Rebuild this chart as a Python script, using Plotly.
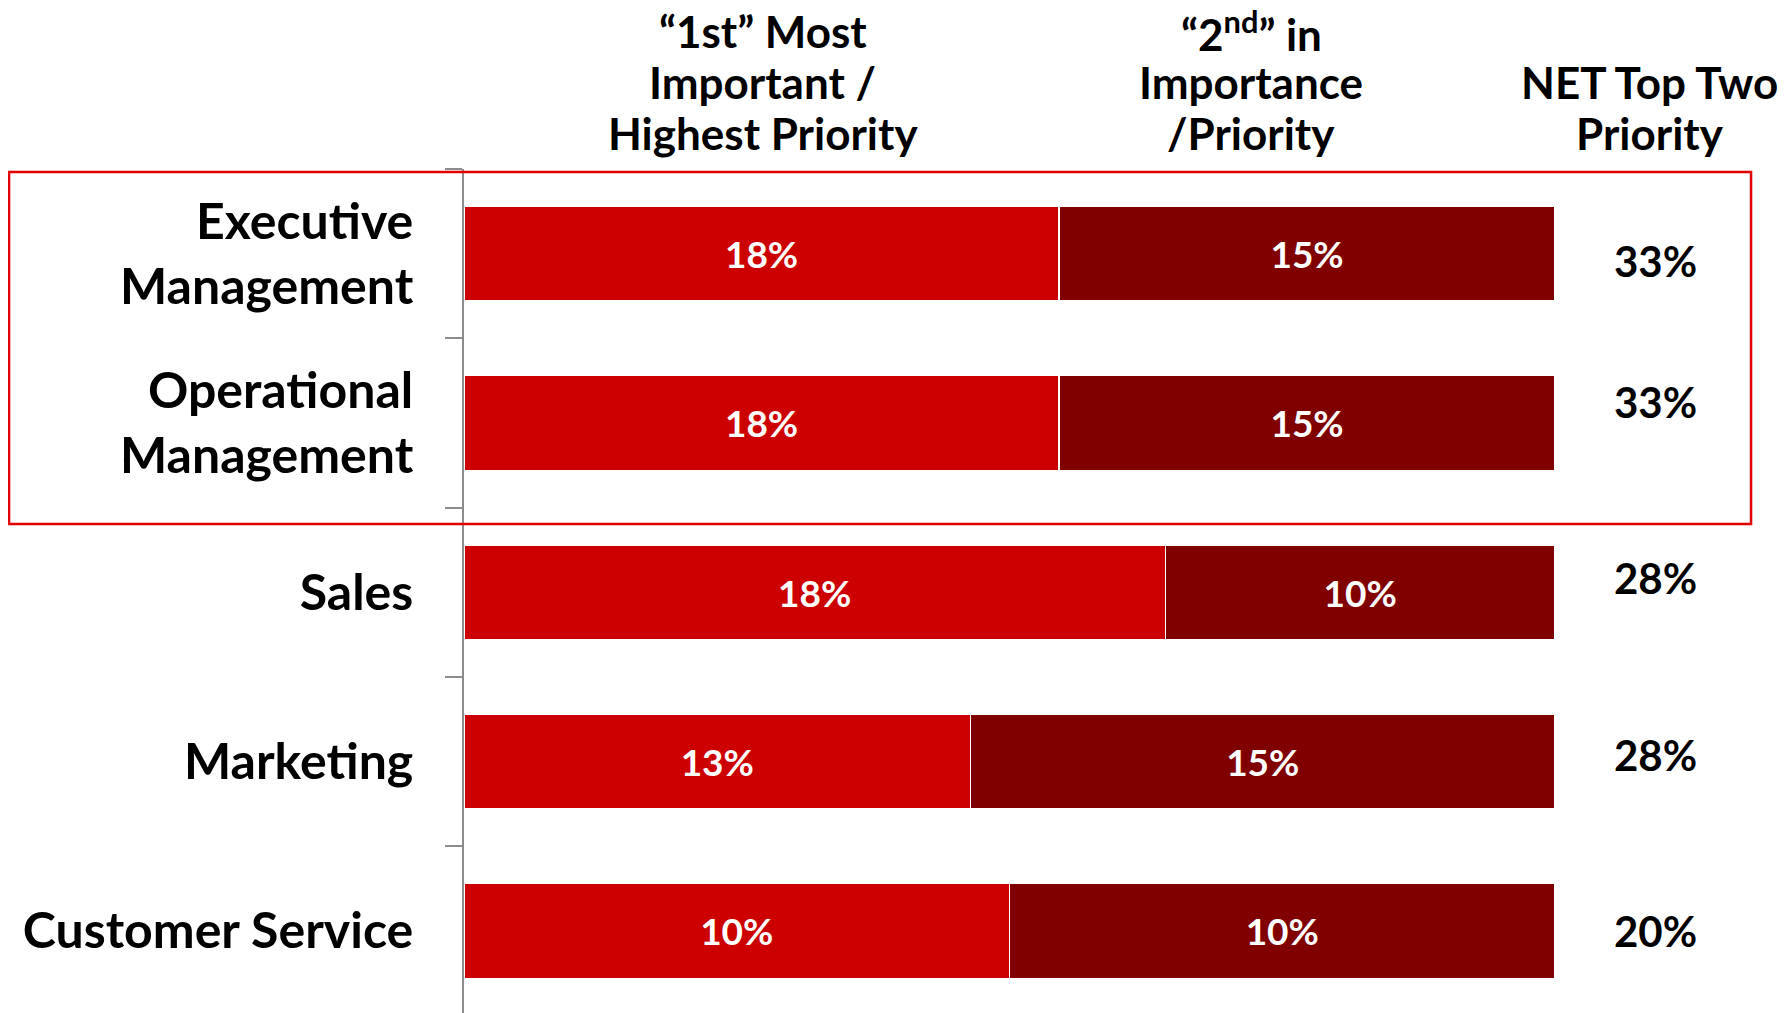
import plotly.graph_objects as go

categories = ["Executive<br>Management", "Operational<br>Management", "Sales", "Marketing", "Customer Service"]
first_priority = [18, 18, 18, 13, 10]
second_priority = [15, 15, 10, 15, 10]
net_top_two = [33, 33, 28, 28, 20]

header_first = ["“1st” Most", "Important /", "Highest Priority"]
header_second = ["“2<sup>nd</sup>” in", "Importance", "/Priority"]
header_net = ["NET Top Two", "Priority"]

# small vertical nudges of the NET labels as seen in the original (px, up positive)
net_nudge = [-7, 21, 14, 7, 0]

FONT = "Lato, Open Sans, sans-serif"
RED = "#CC0000"
DARK = "#800000"

fig = go.Figure()
for vals, col in [(first_priority, RED), (second_priority, DARK)]:
    fig.add_trace(go.Bar(
        y=categories, x=vals, orientation="h",
        marker=dict(color=col, line=dict(color="white", width=1.5)),
        text=[f"{v}%" for v in vals], textposition="inside",
        insidetextanchor="middle", textangle=0,
        textfont=dict(color="white", size=37, family=FONT, weight="bold"),
        hoverinfo="skip",
    ))

# the page adds an 8px body margin, so the figure is 8px smaller on each axis
fig.update_layout(
    width=1782, height=1005,
    barmode="stack", barnorm="percent", bargap=0.44,
    showlegend=False,
    paper_bgcolor="white", plot_bgcolor="white",
    margin=dict(l=456, r=235, t=161, b=0, pad=0),
    font=dict(family=FONT, color="black"),
    uniformtext=dict(minsize=10, mode="show"),
)
fig.update_xaxes(range=[0, 100], visible=False, showgrid=False, zeroline=False)
fig.update_yaxes(
    type="category", range=[4.485, -0.5],
    showline=True, linecolor="#8c8c8c", linewidth=1.5,
    ticks="outside", tickson="boundaries", ticklen=17, tickwidth=1.5, tickcolor="#8c8c8c",
    showgrid=False, zeroline=False, automargin=False,
    tickfont=dict(size=50, family=FONT, color="black", weight="bold"),
    ticklabelstandoff=39,
)

# red highlight box around the top two rows
fig.add_shape(type="rect", xref="paper", yref="y",
              x0=-0.417, x1=1.1797, y0=-0.482, y1=1.597,
              line=dict(color="#E00000", width=2.5), fillcolor="rgba(0,0,0,0)", layer="above")

# column headers, one annotation per line
LINE = 51
for lines, xp, first_shift in [(header_first, 0.2737, 138), (header_second, 0.7215, 138), (header_net, 1.087, 87)]:
    for i, ln in enumerate(lines):
        fig.add_annotation(text=ln, xref="paper", yref="paper", x=xp, y=1,
                           xanchor="center", yanchor="middle", showarrow=False, align="center",
                           yshift=first_shift - LINE * i,
                           font=dict(size=44, family=FONT, color="black", weight="bold"))

# NET values
for cat, v, dy in zip(categories, net_top_two, net_nudge):
    fig.add_annotation(text=f"{v}%", xref="paper", yref="y", x=1.092, y=cat,
                       xanchor="center", yanchor="middle", showarrow=False, yshift=dy,
                       font=dict(size=42, family=FONT, color="black", weight="bold"))

fig.write_html("out.html")
